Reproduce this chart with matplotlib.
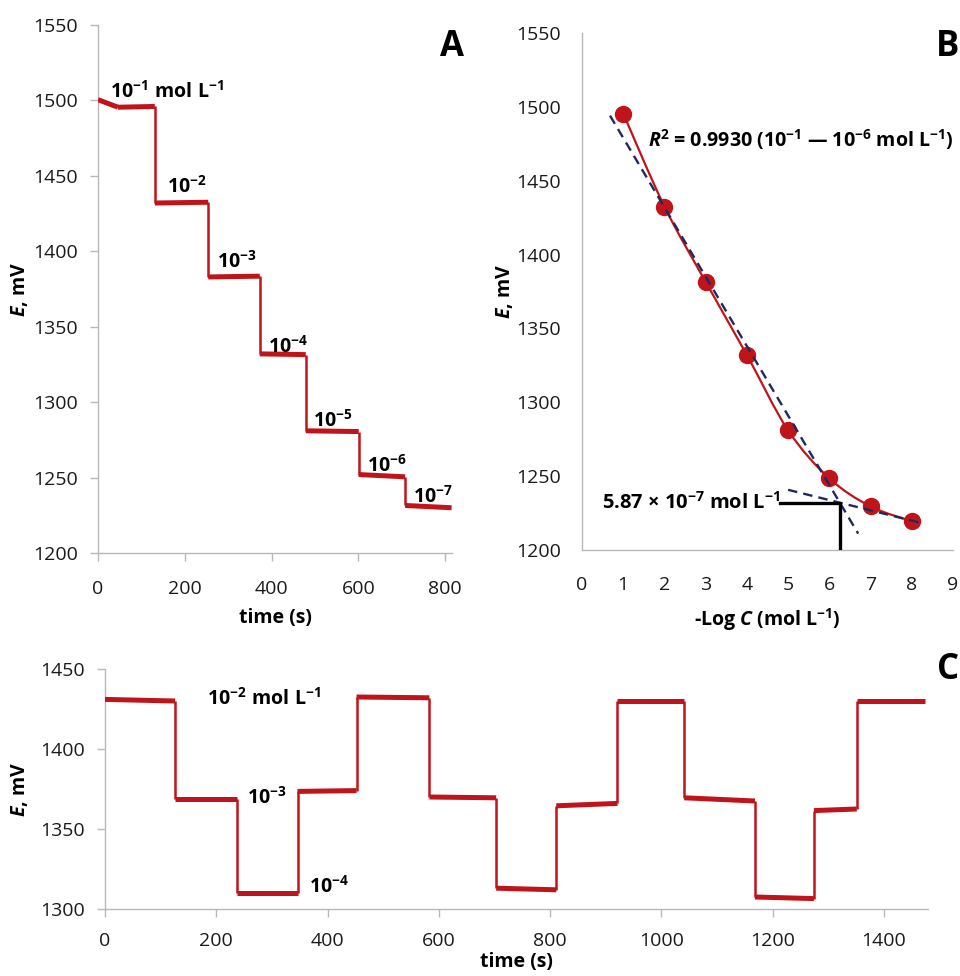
import matplotlib
matplotlib.use("Agg")
import matplotlib.pyplot as plt
from matplotlib.path import Path
from matplotlib.patches import PathPatch
import numpy as np

plt.rcParams['font.family'] = ['Open Sans', 'DejaVu Sans']
plt.rcParams['mathtext.fontset'] = 'custom'
plt.rcParams['mathtext.rm'] = 'Open Sans'
plt.rcParams['mathtext.bf'] = 'Open Sans:bold'
plt.rcParams['mathtext.it'] = 'Open Sans:italic'
plt.rcParams['mathtext.bfit'] = 'Open Sans:italic:bold'

RED = '#c0141b'
NAVY = '#1f2a5c'
GRAY = '#b8b8b8'
TXT = '#1a1a1a'

# ---- panel A: calibration steps (plateau start/end points)
a_time = [0, 46, 131, 131, 254, 254, 373, 373, 479, 479, 601, 601, 708, 708, 815]
a_E = [1500.5, 1495.5, 1496, 1432, 1432.5, 1383, 1383.5, 1332, 1331.5, 1281, 1280.5,
       1252, 1250.5, 1231.5, 1230]
a_labels = ['$\\mathbf{10^{-1}\\ mol\\ L^{-1}}$', '$\\mathbf{10^{-2}}$', '$\\mathbf{10^{-3}}$',
            '$\\mathbf{10^{-4}}$', '$\\mathbf{10^{-5}}$', '$\\mathbf{10^{-6}}$', '$\\mathbf{10^{-7}}$']
a_label_t = [28, 158, 274, 392, 496, 620, 727]
a_label_E = [1502, 1438.5, 1389, 1333, 1283.5, 1254, 1233]

# ---- panel B: calibration curve
b_logc = [1, 2, 3, 4, 5, 6, 7, 8]
b_E = [1495.5, 1432.5, 1381.5, 1332, 1281, 1248.5, 1229.5, 1219.5]
fit1 = (-47.0, 1526.0)   # slope, intercept, 10^-1 .. 10^-6
fit1_range = (0.68, 6.7)
fit2 = (-6.95, 1275.5)
fit2_range = (5.0, 8.2)
lod_text = '5.87 × 10$^{\\mathbf{-7}}$ mol L$^{\\mathbf{-1}}$'
r2_text = '$\\mathbfit{R}^{\\mathbf{2}}$ = 0.9930 (10$^{\\mathbf{-1}}$ — 10$^{\\mathbf{-6}}$ mol L$^{\\mathbf{-1}}$)'

# ---- panel C: reversibility
c_time = [0, 126, 126, 237, 237, 346, 346, 452, 452, 583, 583, 703, 703, 811, 811, 921,
          921, 1041, 1041, 1168, 1168, 1274, 1274, 1351, 1351, 1474]
c_E = [1431, 1430, 1368.5, 1368.5, 1310, 1310, 1373.5, 1374, 1432.5, 1432, 1370, 1369.5,
       1313, 1312, 1364.5, 1366, 1430, 1430, 1369.5, 1367.5, 1307.5, 1306.5, 1361.5,
       1362.5, 1430, 1430]
c_labels = ['$\\mathbf{10^{-2}\\ mol\\ L^{-1}}$', '$\\mathbf{10^{-3}}$', '$\\mathbf{10^{-4}}$']
c_label_t = [183, 255, 366]
c_label_E = [1427.5, 1365.5, 1310]


def step_trace(ax, t, e):
    for i in range(len(t) - 1):
        flat = t[i] != t[i + 1]
        ax.plot(t[i:i + 2], e[i:i + 2], color=RED, lw=3.6 if flat else 1.8,
                solid_capstyle='butt', zorder=3)


def style(ax, ticks=True, xpad=9, ypad=9):
    for s in ['top', 'right']:
        ax.spines[s].set_visible(False)
    for s in ['left', 'bottom']:
        ax.spines[s].set_color(GRAY)
        ax.spines[s].set_linewidth(1.0)
    ax.tick_params(direction='out', length=5.5 if ticks else 0, width=1, color=GRAY,
                   labelsize=14, labelcolor=TXT)
    ax.tick_params(axis='x', pad=xpad)
    ax.tick_params(axis='y', pad=ypad)


fig = plt.figure(figsize=(9.6, 9.76), dpi=100)

# A
axA = fig.add_axes([98 / 960, 1 - 553 / 976, 354 / 960, 528 / 976])
step_trace(axA, a_time, a_E)
axA.set_xlim(0, 816)
axA.set_ylim(1200, 1550)
axA.set_xticks([0, 200, 400, 600, 800])
axA.set_yticks(range(1200, 1551, 50))
style(axA, xpad=14, ypad=9)
for s, t, e in zip(a_labels, a_label_t, a_label_E):
    axA.text(t, e, s, fontsize=14, color='black', va='baseline', zorder=4)
axA.set_xlabel('time (s)', fontsize=14, fontweight='bold')
axA.set_ylabel('$\\mathbfit{E}$, mV', fontsize=14, fontweight='bold')
axA.xaxis.set_label_coords(0.5, -0.105)
axA.yaxis.set_label_coords(-0.192, 0.5)

# B
axB = fig.add_axes([582 / 960, 1 - 550 / 976, 371 / 960, 517 / 976])
pts = np.column_stack([b_logc, b_E])
ext = np.vstack([pts[0], pts, pts[-1]])
verts = [tuple(pts[0])]
codes = [Path.MOVETO]
for i in range(1, len(ext) - 2):
    p0, p1, p2, p3 = ext[i - 1], ext[i], ext[i + 1], ext[i + 2]
    verts += [tuple(p1 + (p2 - p0) / 6), tuple(p2 - (p3 - p1) / 6), tuple(p2)]
    codes += [Path.CURVE4] * 3
axB.add_patch(PathPatch(Path(verts, codes), fill=False, edgecolor=RED, lw=1.6, zorder=3))
axB.plot(b_logc, b_E, 'o', color=RED, ms=11.5, zorder=4)
for (m, b0), (x0, x1) in [(fit1, fit1_range), (fit2, fit2_range)]:
    xs = np.array([x0, x1])
    axB.plot(xs, m * xs + b0, ls=(0, (4, 2.6)), color=NAVY, lw=1.7, zorder=5)
x_lod = (fit2[1] - fit1[1]) / (fit1[0] - fit2[0])
e_lod = fit1[0] * x_lod + fit1[1]
axB.plot([4.8, x_lod, x_lod], [e_lod, e_lod, 1200], color='black', lw=2.4, zorder=5)
axB.text(0.48, e_lod, lod_text, fontsize=14.5, fontweight='bold', va='center', zorder=6)
axB.text(1.6, 1473, r2_text, fontsize=14.1, fontweight='bold', va='baseline')
axB.set_xlim(0, 9)
axB.set_ylim(1200, 1550)
axB.set_xticks(range(0, 10))
axB.set_yticks(range(1200, 1551, 50))
style(axB, ticks=False, xpad=19, ypad=15)
axB.set_xlabel('-Log $\\mathbfit{C}$ (mol L$^{\\mathbf{-1}}$)', fontsize=14, fontweight='bold')
axB.set_ylabel('$\\mathbfit{E}$, mV', fontsize=14, fontweight='bold')
axB.xaxis.set_label_coords(0.5, -0.110)
axB.yaxis.set_label_coords(-0.181, 0.5)

# C
axC = fig.add_axes([105 / 960, 1 - 909 / 976, 823 / 960, 240 / 976])
step_trace(axC, c_time, c_E)
axC.set_xlim(0, 1479)
axC.set_ylim(1300, 1450)
axC.set_xticks(range(0, 1401, 200))
axC.set_yticks([1300, 1350, 1400, 1450])
style(axC, xpad=11, ypad=9)
for s, t, e in zip(c_labels, c_label_t, c_label_E):
    axC.text(t, e, s, fontsize=14, color='black', va='baseline', zorder=4)
axC.set_xlabel('time (s)', fontsize=14, fontweight='bold', va='baseline')
axC.set_ylabel('$\\mathbfit{E}$, mV', fontsize=14, fontweight='bold')
axC.xaxis.set_label_coords(0.5, -0.243)
axC.yaxis.set_label_coords(-0.091, 0.5)

for letter, x, y in [('A', 452, 47), ('B', 948, 47), ('C', 948, 670)]:
    fig.text(x / 960, 1 - y / 976, letter, fontsize=25, fontweight='bold',
             ha='center', va='center')

fig.savefig('out.png', dpi=100)
